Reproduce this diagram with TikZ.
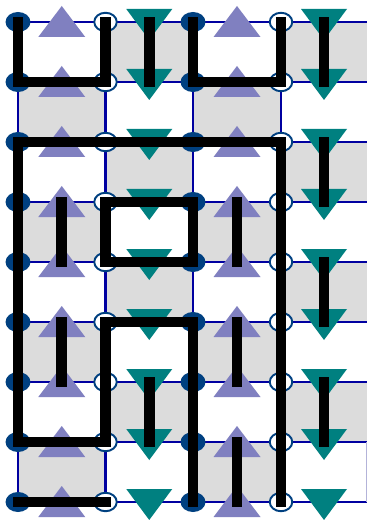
\documentclass[tikz,border=0pt]{standalone}
\usepackage{tikz}
\usetikzlibrary{shapes.geometric, calc}
\definecolor{gridBlue}{RGB}{0,0,160}
\definecolor{siteBlue}{RGB}{0,64,128}
\definecolor{upPurple}{RGB}{128,128,192}
\definecolor{downTeal}{RGB}{0,128,128}
\definecolor{cellGrey}{RGB}{220,220,220}
\tikzset{
	cellbox/.style={fill=cellGrey, draw=gray!55, line width=0.3pt},
	gridln/.style={draw=gridBlue, line width=1.4pt},
	fullsite/.style={ellipse, fill=siteBlue, minimum width=0.5cm, minimum height=0.4cm, inner sep=0pt},
	opensite/.style={ellipse, draw=siteBlue, fill=white, line width=1.1pt,
		minimum width=0.45cm, minimum height=0.37cm, inner sep=0pt},
	uptri/.style={fill=upPurple},
	downtri/.style={fill=downTeal},
	loopln/.style={draw=black, line width=6.1pt, line cap=rect, line join=miter}
}
\begin{document}
\begin{tikzpicture}[x=0.02cm, y=-0.02cm]
	\useasboundingbox (0,0) rectangle (367,520);
	\foreach \c/\x/\xx in {0/18/105.5, 1/105.5/193, 2/193/281, 3/281/367}
		\foreach \r in {0,...,7} {
			\pgfmathtruncatemacro\parity{mod(\r+\c,2)}
			\ifnum\parity=1
				\path[cellbox] (\x,{22+60*\r}) rectangle (\xx,{82+60*\r});
			\fi
		}
	\foreach \r in {0,...,8}
		\draw[gridln] (18,{22+60*\r}) -- (367,{22+60*\r});
	\foreach \x in {18,105.5,193,281}
		\draw[gridln] (\x,22) -- (\x,502);
	\draw[upPurple!60, line width=0.4pt] (366,442) -- (366,502);
	\foreach \c/\x in {0/61.75, 2/237}
		\foreach \r in {0,...,8} {
			\coordinate (t-\c-\r) at (\x,{22+60*\r});
			\fill[uptri] ($(t-\c-\r)+(0,-16)$) -- ($(t-\c-\r)+(23.5,15)$) -- ($(t-\c-\r)+(-23.5,15)$) -- cycle;
		}
	\foreach \c/\x in {1/149.25, 3/324}
		\foreach \r in {0,...,8} {
			\coordinate (t-\c-\r) at (\x,{22+60*\r});
			\fill[downtri] ($(t-\c-\r)+(-23,-13)$) -- ($(t-\c-\r)+(23,-13)$) -- ($(t-\c-\r)+(0,18)$) -- cycle;
		}
	\foreach \c/\x in {0/18, 2/193}
		\foreach \r in {0,...,8}
			\node[fullsite] (v-\c-\r) at (\x,{22+60*\r}) {};
	\foreach \c/\x in {1/105.5, 3/281}
		\foreach \r in {0,...,8}
			\node[opensite] (v-\c-\r) at (\x,{22+60*\r}) {};
	\draw[loopln] (v-0-0.center) -- (v-0-1.center) -- (v-1-1.center) -- (v-1-0.center);
	\draw[loopln] (v-2-0.center) -- (v-2-1.center) -- (v-3-1.center) -- (v-3-0.center);
	\draw[loopln] (v-2-8.center) -- (v-2-5.center) -- (v-1-5.center) -- (v-1-7.center)
		-- (v-0-7.center) -- (v-0-2.center) -- (v-3-2.center) -- (v-3-8.center);
	\draw[loopln] (v-1-3.center) -- (v-2-3.center) -- (v-2-4.center) -- (v-1-4.center) -- cycle;
	\draw[loopln] (v-0-8.center) -- (v-1-8.center);
	\foreach \a/\b in {1-0/1-1, 3-0/3-1, 0-3/0-4, 0-5/0-6, 1-6/1-7, 2-3/2-4,
		2-5/2-6, 2-7/2-8, 3-2/3-3, 3-4/3-5, 3-6/3-7}
		\draw[loopln] (t-\a) -- (t-\b);
\end{tikzpicture}
\end{document}
